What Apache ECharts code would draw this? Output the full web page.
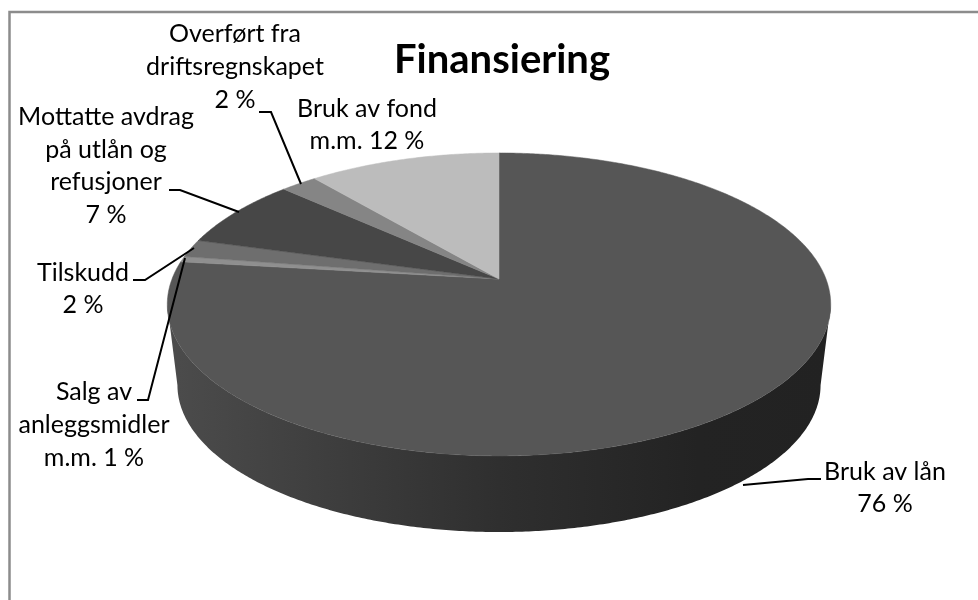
<!DOCTYPE html>
<html>
<head>
<meta charset="utf-8">
<style>
	html, body { margin: 0; padding: 0; background: #fff; }
	#chart { width: 978px; height: 600px; }
</style>
<script src="https://cdn.jsdelivr.net/npm/echarts@6/dist/echarts.min.js"></script>
</head>
<body>
<div id="chart"></div>
<script>
//Slices clockwise from 12 o'clock
let categories = ['Bruk av lån', 'Salg av anleggsmidler m.m.', 'Tilskudd', 'Mottatte avdrag på utlån og refusjoner', 'Overført fra driftsregnskapet', 'Bruk av fond m.m.'];
let values = [76.9, 0.6, 1.9, 7.5, 2.1, 11.0];
let percentLabels = ['76 %', '1 %', '2 %', '7 %', '2 %', '12 %'];
let colors = ['#565656', '#8f8f8f', '#6e6e6e', '#474747', '#858585', '#bcbcbc'];

//Pie is a circle seen in perspective, k is how strong the perspective is
let k = 0.168;
let cx = 499;
let topRim = { a: 327, b: 147.2, cy: 279 };
let bottomRim = { a: 317, b: 142.8, cy: 360.4 };
let frontStart = 90 + 9.7;
let frontEnd = 270 - 9.7;

function rimPoint(deg, rim) {
	let t = deg * Math.PI / 180;
	let u = Math.sin(t);
	let v = -Math.cos(t);
	let w = 1 - k * v;
	return [cx + rim.a * u / w, rim.cy + rim.b * v / w];
}

function arcPoints(from, to, rim) {
	let pts = [];
	let steps = Math.max(2, Math.ceil((to - from) * 2));
	for (let i = 0; i <= steps; i++) {
		pts.push(rimPoint(from + (to - from) * i / steps, rim));
	}
	return pts;
}

let total = values.reduce((a, b) => a + b, 0);

function renderSlice(params, api) {
	let before = 0;
	for (let i = 0; i < params.dataIndex; i++) {
		before += values[i];
	}
	let start = before / total * 360;
	let end = start + api.value(0) / total * 360;
	let children = [];

	//Outer wall, only the part that faces the viewer
	let wFrom = Math.max(start, frontStart);
	let wTo = Math.min(end, frontEnd);
	if (wTo > wFrom) {
		children.push({
			type: 'polygon',
			shape: { points: arcPoints(wFrom, wTo, topRim).concat(arcPoints(wFrom, wTo, bottomRim).reverse()) },
			style: {
				fill: new echarts.graphic.LinearGradient(0, 0, 1, 0, [
					{ offset: 0, color: '#4c4c4c' },
					{ offset: 0.5, color: '#2f2f2f' },
					{ offset: 0.8, color: '#232323' },
					{ offset: 1, color: '#222222' }
				])
			}
		});
	}

	//Top face
	let color = colors[params.dataIndex];
	children.push({
		type: 'polygon',
		z2: 5,
		shape: { points: [[cx, topRim.cy]].concat(arcPoints(start, end, topRim)) },
		style: { fill: color, stroke: color, lineWidth: 0.5 }
	});
	return { type: 'group', children: children };
}

//Label text and leader lines
function placeText(x, y, lines) {
	return {
		type: 'text',
		x: x,
		y: y,
		z: 10,
		silent: true,
		style: {
			text: lines,
			fontFamily: 'Lato',
			fontSize: 25,
			lineHeight: 32.7,
			fill: '#000',
			align: 'center',
			verticalAlign: 'middle'
		}
	};
}

function leader(points) {
	return {
		type: 'polyline',
		z: 9,
		silent: true,
		shape: { points: points },
		style: { stroke: '#000', lineWidth: 2, fill: null }
	};
}

let chart = echarts.init(document.getElementById('chart'));
chart.setOption({
	animation: false,
	backgroundColor: '#fff',
	title: {
		text: 'Finansiering',
		left: 394,
		top: 40,
		padding: 0,
		textStyle: { fontFamily: 'Lato', fontSize: 40, fontWeight: 'bold', color: '#000' }
	},
	series: [{
		type: 'custom',
		coordinateSystem: 'none',
		silent: true,
		renderItem: renderSlice,
		data: values.map((v, i) => ({ name: categories[i], value: [v] }))
	}],
	graphic: [
		//Frame, only left and top show in the picture
		{ type: 'polyline', silent: true, shape: { points: [[9.5, 600], [9.5, 12], [978, 12]] }, style: { stroke: '#8c8c8c', lineWidth: 2.5, fill: null } },

		placeText(885, 488, 'Bruk av lån\n' + percentLabels[0]),
		placeText(94, 425, 'Salg av\nanleggsmidler\nm.m. ' + percentLabels[1]),
		placeText(83, 289, 'Tilskudd\n' + percentLabels[2]),
		placeText(106, 166, 'Mottatte avdrag\npå utlån og\nrefusjoner\n' + percentLabels[3]),
		placeText(235, 67, 'Overført fra\ndriftsregnskapet\n' + percentLabels[4]),
		placeText(367, 125, 'Bruk av fond\nm.m. ' + percentLabels[5]),

		leader([[821, 479], [808, 479], [743, 485]]),
		leader([[137, 400], [148, 400], [185, 258]]),
		leader([[133, 280], [145, 280], [194, 248]]),
		leader([[169, 190], [180, 190], [239, 212]]),
		leader([[259, 112], [271, 112], [301, 184]])
	]
});
</script>
</body>
</html>
